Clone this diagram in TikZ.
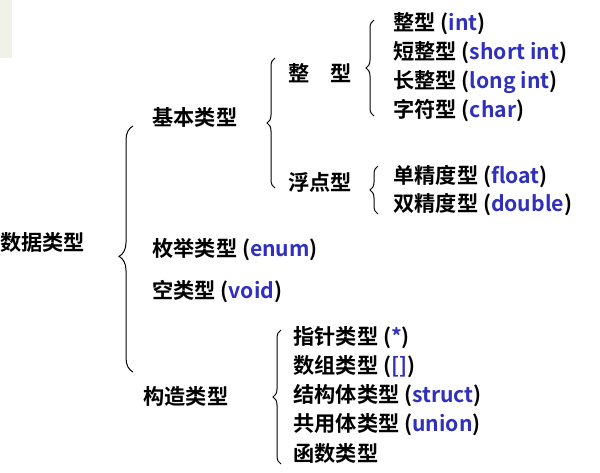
\documentclass[tikz,border=0pt]{standalone}
\usepackage{fontspec}
\setmainfont{Noto Sans CJK SC}[BoldFont={* Bold}]
\usetikzlibrary{decorations.pathreplacing}
\definecolor{kw}{RGB}{48,48,190}
\definecolor{corner}{RGB}{240,242,232}
\tikzset{x=0.5pt,y=-0.5pt,
 t/.style={anchor=west,inner sep=0pt,font=\fontsize{10.6}{12}\selectfont\bfseries},
 br/.style={decorate,decoration={brace,amplitude=4pt},line width=0.5pt}}
\newcommand{\kw}[1]{\textcolor{kw}{#1}}
\begin{document}
\begin{tikzpicture}
\useasboundingbox (0,0) rectangle (600,472);
\fill[corner] (0,0) rectangle (12,58);
\node[t] (root) at (0,242) {数据类型};
\node[t] (basic) at (152,117) {基本类型};
\node[t] (int) at (288,73) {整\hspace{1em}型};
\node[t] (i1) at (393,24) {整型 (\kw{int})};
\node[t] (i2) at (393,53) {短整型 (\kw{short int})};
\node[t] (i3) at (393,82) {长整型 (\kw{long int})};
\node[t] (i4) at (393,111) {字符型 (\kw{char})};
\node[t] (flt) at (288,182) {浮点型};
\node[t] (f1) at (393,177) {单精度型 (\kw{float})};
\node[t] (f2) at (393,205) {双精度型 (\kw{double})};
\node[t] (enum) at (152,250) {枚举类型 (\kw{enum})};
\node[t] (void) at (152,292) {空类型 (\kw{void})};
\node[t] (cons) at (143,396) {构造类型};
\node[t] (c1) at (293,338) {指针类型 (\kw{*})};
\node[t] (c2) at (293,367) {数组类型 (\kw{[]})};
\node[t] (c3) at (293,396) {结构体类型 (\kw{struct})};
\node[t] (c4) at (293,425) {共用体类型 (\kw{union})};
\node[t] (c5) at (293,453) {函数类型};
\draw[br,decoration={amplitude=7pt,aspect=0.47}] (133,372) -- (133,126);
\draw[br] (275,188) -- (275,58);
\draw[br] (374,116) -- (374,20);
\draw[br] (378,214) -- (378,166);
\draw[br] (281,464) -- (281,330);
\end{tikzpicture}
\end{document}
